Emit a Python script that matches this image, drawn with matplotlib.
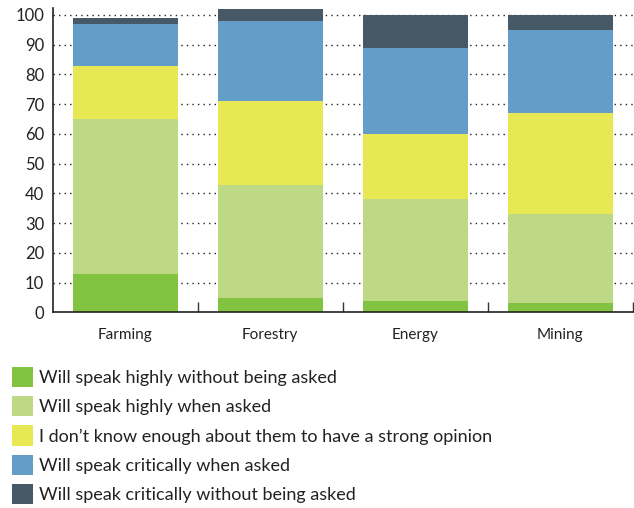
import numpy as np
import matplotlib.pyplot as plt

plt.rcParams['font.family'] = ['Lato', 'DejaVu Sans']

categories = ['Farming', 'Forestry', 'Energy', 'Mining']
series = [
    'Will speak highly without being asked',
    'Will speak highly when asked',
    'I don\u2019t know enough about them to have a strong opinion',
    'Will speak critically when asked',
    'Will speak critically without being asked',
]
# share of respondents per category (%)
highly_unasked = [13, 5, 4, 3]
highly_asked = [52, 38, 34, 30]
dont_know = [18, 28, 22, 34]
critical_asked = [14, 27, 29, 28]
critical_unasked = [2, 4, 11, 5]
colors = ['#82c341', '#bdd985', '#e8e855', '#659dc9', '#475866']

values = [highly_unasked, highly_asked, dont_know, critical_asked, critical_unasked]

fig = plt.figure(figsize=(6.34, 5.08), dpi=100)
ax = fig.add_axes([0.083, 0.385, 0.915, 0.599])

x = np.arange(len(categories))
bottom = np.zeros(len(categories))
handles = []
for vals, col, lab in zip(values, colors, series):
    b = ax.bar(x, vals, width=0.724, bottom=bottom, color=col, label=lab, zorder=2)
    handles.append(b)
    bottom += np.array(vals)

ax.set_xlim(-0.5, len(categories) - 0.5)
ax.set_ylim(0, 102.3)
ax.set_yticks(range(0, 101, 10))
ax.yaxis.grid(True, linestyle=(0, (1, 3)), color='#222222', linewidth=1.0, zorder=0)
ax.set_axisbelow(True)

# category labels at bar centres, small ticks at the boundaries
ax.set_xticks(x)
ax.set_xticklabels(categories, fontsize=11)
ax.tick_params(axis='x', length=0, pad=11, colors='#222222')
ax.set_xticks(np.arange(len(categories)) + 0.5, minor=True)
ax.tick_params(axis='x', which='minor', direction='in', length=7, width=1, color='#333333')
ax.tick_params(axis='y', length=0, labelsize=12, pad=6, colors='#222222')

for s in ['top', 'right']:
    ax.spines[s].set_visible(False)
ax.spines['left'].set_color('#222222')
ax.spines['bottom'].set_color('#222222')
ax.spines['left'].set_linewidth(1.2)
ax.spines['bottom'].set_linewidth(1.2)

fig.legend(handles=handles, labels=series, loc='upper left',
           bbox_to_anchor=(0.019, 0.278), frameon=False, fontsize=13,
           handlelength=1.15, handleheight=1.35, handletextpad=0.35,
           labelspacing=0.5, borderpad=0, borderaxespad=0, labelcolor='#222222')

fig.savefig('out.png', dpi=100)
